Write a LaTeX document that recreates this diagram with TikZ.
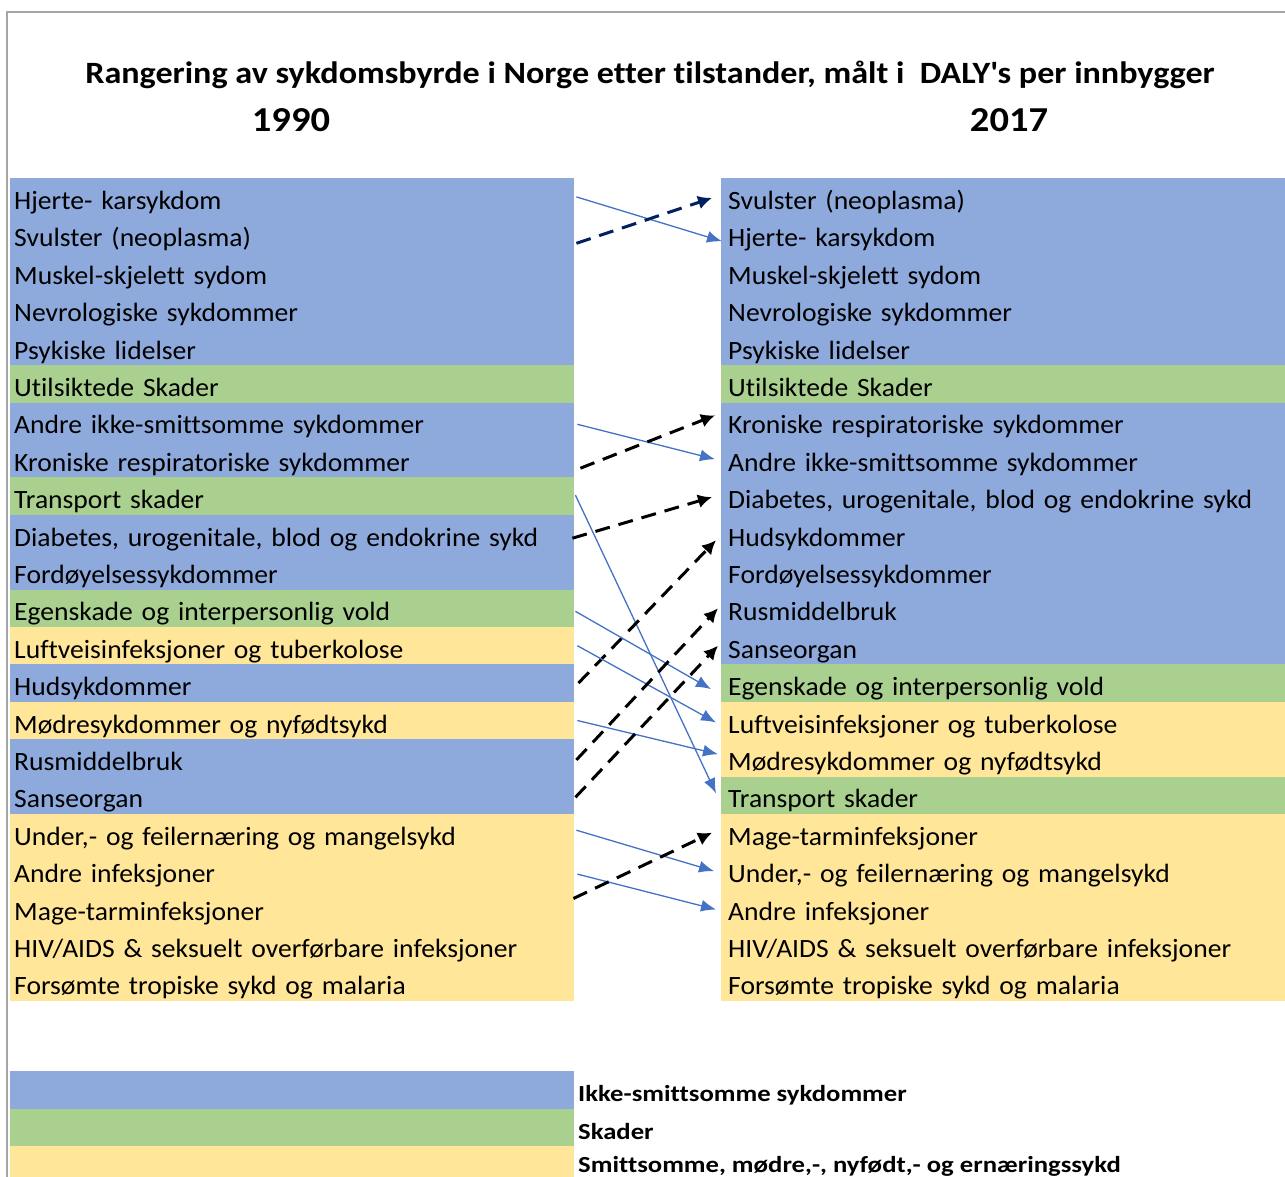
\documentclass[tikz,border=0pt]{standalone}
\usepackage{fontspec}
\setmainfont{Carlito}[Ligatures=NoCommon,FakeStretch=1.045]
\newfontfamily\titlefont{Carlito}[Ligatures=NoCommon,FakeStretch=1.1]
\newfontfamily\legfont{Carlito}[Ligatures=NoCommon,FakeStretch=1.16]
\usetikzlibrary{arrows.meta,calc}
\definecolor{cblue}{HTML}{8EA9DB}
\definecolor{cgreen}{HTML}{A9D08E}
\definecolor{cyellow}{HTML}{FFE699}
\definecolor{arrblue}{HTML}{4472C4}
\definecolor{navy}{HTML}{002060}
\definecolor{framegray}{HTML}{A6A6A6}
\tikzset{
  rowbase/.style={anchor=north west, minimum width=564pt, minimum height=37.4pt,
    inner ysep=0pt, align=left, text height=27pt, text depth=1.8pt,
    font=\fontsize{26.4}{30}\selectfont},
  lrow/.style={rowbase, inner xsep=4pt, text width=556pt},
  rrow/.style={rowbase, inner xsep=7pt, text width=550pt},
  upmove/.style={draw=arrblue, line width=1.3pt, -{Latex[length=15pt,width=12pt]}},
  downmove/.style={draw=black, line width=3pt, dash pattern=on 15pt off 9pt, -{Latex[length=14pt,width=14pt]}},
  navymove/.style={draw=navy, line width=3pt, dash pattern=on 15pt off 9pt, -{Latex[length=14pt,width=14pt]}},
  legtext/.style={anchor=base west, inner sep=0pt, font=\legfont\bfseries\fontsize{23}{26}\selectfont},
}
\begin{document}
\begin{tikzpicture}[x=1pt,y=-1pt]
\useasboundingbox (0,0) rectangle (1285,1176);
\fill[white] (0,0) rectangle (1285,1176);
\draw[framegray, line width=2pt] (7,1180) -- (7,12) -- (1290,12);
\node[anchor=base, inner sep=0pt, font=\titlefont\bfseries\fontsize{31}{34}\selectfont] (title) at (650,83) {Rangering av sykdomsbyrde i Norge etter tilstander, målt i\ \ DALY\textquotesingle s per innbygger};
\node[anchor=base, inner sep=0pt, font=\titlefont\bfseries\fontsize{35}{38}\selectfont] (y1) at (291,131.5) {1990};
\node[anchor=base, inner sep=0pt, font=\titlefont\bfseries\fontsize{35}{38}\selectfont] (y2) at (1009,131.5) {2017};
% left column
\foreach \i/\c/\t in {
 0/cblue/{Hjerte- karsykdom},
 1/cblue/{Svulster (neoplasma)},
 2/cblue/{Muskel-skjelett sydom},
 3/cblue/{Nevrologiske sykdommer},
 4/cblue/{Psykiske lidelser},
 5/cgreen/{Utilsiktede Skader},
 6/cblue/{Andre ikke-smittsomme sykdommer},
 7/cblue/{Kroniske respiratoriske sykdommer},
 8/cgreen/{Transport skader},
 9/cblue/{Diabetes, urogenitale, blod og endokrine sykd},
 10/cblue/{Fordøyelsessykdommer},
 11/cgreen/{Egenskade og interpersonlig vold},
 12/cyellow/{Luftveisinfeksjoner og tuberkolose},
 13/cblue/{Hudsykdommer},
 14/cyellow/{Mødresykdommer og nyfødtsykd},
 15/cblue/{Rusmiddelbruk},
 16/cblue/{Sanseorgan},
 17/cyellow/{Under,- og feilernæring og mangelsykd},
 18/cyellow/{Andre infeksjoner},
 19/cyellow/{Mage-tarminfeksjoner},
 20/cyellow/{HIV/AIDS \& seksuelt overførbare infeksjoner},
 21/cyellow/{Forsømte tropiske sykd og malaria}}
 {\node[lrow, fill=\c] (L\i) at (10,178+37.4*\i) {\t};}
% right column
\foreach \i/\c/\t in {
 0/cblue/{Svulster (neoplasma)},
 1/cblue/{Hjerte- karsykdom},
 2/cblue/{Muskel-skjelett sydom},
 3/cblue/{Nevrologiske sykdommer},
 4/cblue/{Psykiske lidelser},
 5/cgreen/{Utilsiktede Skader},
 6/cblue/{Kroniske respiratoriske sykdommer},
 7/cblue/{Andre ikke-smittsomme sykdommer},
 8/cblue/{Diabetes, urogenitale, blod og endokrine sykd},
 9/cblue/{Hudsykdommer},
 10/cblue/{Fordøyelsessykdommer},
 11/cblue/{Rusmiddelbruk},
 12/cblue/{Sanseorgan},
 13/cgreen/{Egenskade og interpersonlig vold},
 14/cyellow/{Luftveisinfeksjoner og tuberkolose},
 15/cyellow/{Mødresykdommer og nyfødtsykd},
 16/cgreen/{Transport skader},
 17/cyellow/{Mage-tarminfeksjoner},
 18/cyellow/{Under,- og feilernæring og mangelsykd},
 19/cyellow/{Andre infeksjoner},
 20/cyellow/{HIV/AIDS \& seksuelt overførbare infeksjoner},
 21/cyellow/{Forsømte tropiske sykd og malaria}}
 {\node[rrow, fill=\c] (R\i) at (721,178+37.4*\i) {\t};}
% arrows
\draw[upmove] ($(L0.east)+(2,0)$) -- ($(R1.west)+(1,7)$);
\draw[navymove] ($(L1.east)+(2,9)$) -- ($(R0.west)+(-9,1)$);
\draw[upmove] ($(L6.east)+(3,3)$) -- ($(R7.west)+(-6,0.5)$);
\draw[downmove] ($(L7.east)+(6,9.5)$) -- ($(R6.west)+(-6,-6)$);
\draw[upmove] ($(L8.east)+(1,-1)$) -- ($(R16.west)+(-5,-2)$);
\draw[downmove] ($(L9.east)+(-2,4.7)$) -- ($(R8.west)+(-9,1)$);
\draw[downmove] ($(L13.east)+(4,0)$) -- ($(R9.west)+(-5,6.7)$);
\draw[upmove] ($(L11.east)+(1,3)$) -- ($(R13.west)+(-10,6)$);
\draw[upmove] ($(L12.east)+(3,0)$) -- ($(R14.west)+(-5,2)$);
\draw[upmove] ($(L14.east)+(3,0)$) -- ($(R15.west)+(-3,-3.7)$);
\draw[downmove] ($(L15.east)+(2,2)$) -- ($(R11.west)+(-3,0)$);
\draw[downmove] ($(L16.east)+(1,2)$) -- ($(R12.west)+(-3,0)$);
\draw[upmove] ($(L17.east)+(2,-2.5)$) -- ($(R18.west)+(-7,1)$);
\draw[upmove] ($(L18.east)+(3,4)$) -- ($(R19.west)+(-5,2)$);
\draw[downmove] ($(L19.east)+(-1,-9)$) -- ($(R17.west)+(-9,0)$);
% legend
\node[lrow, fill=cblue] (LG1) at (10,1071) {};
\node[lrow, fill=cgreen] (LG2) at (10,1108.4) {};
\node[lrow, fill=cyellow] (LG3) at (10,1145.8) {};
\node[legtext] (LT1) at (578,1101.7) {Ikke-smittsomme sykdommer};
\node[legtext] (LT2) at (578,1139) {Skader};
\node[legtext] (LT3) at (578,1172) {Smittsomme, mødre,-, nyfødt,- og ernæringssykd};
\end{tikzpicture}
\end{document}
